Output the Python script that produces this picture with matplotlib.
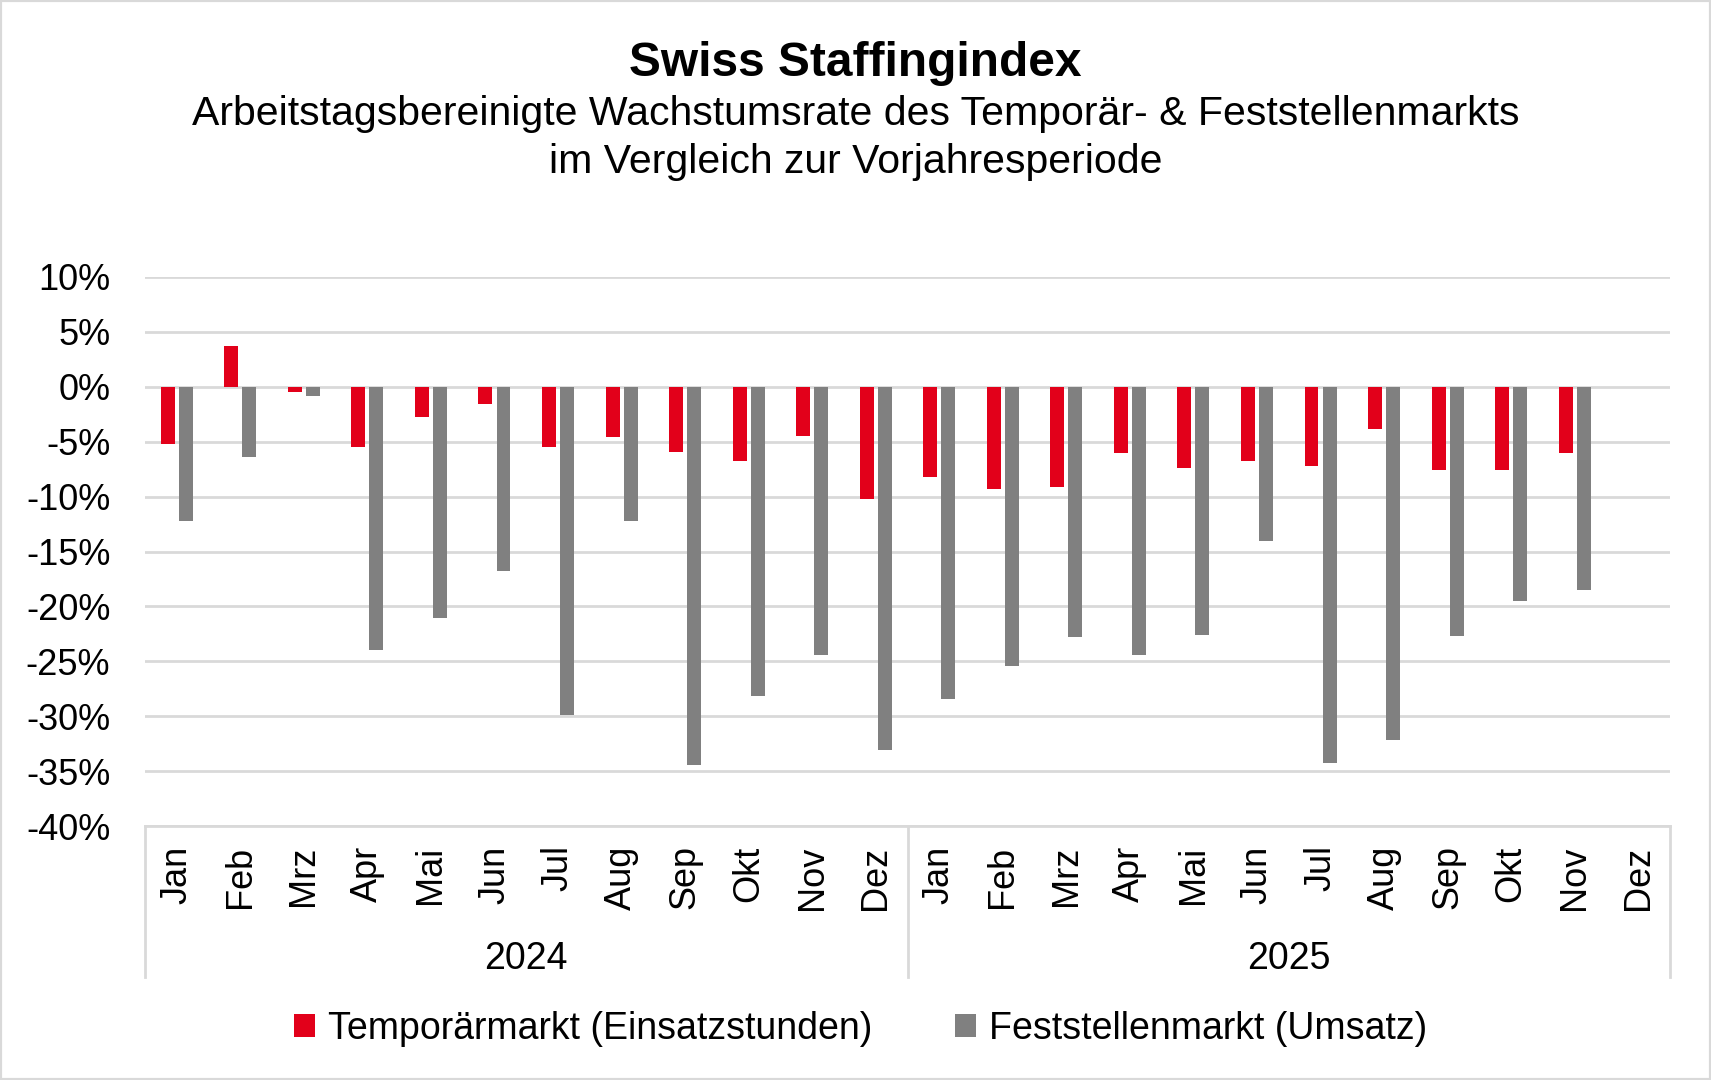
import numpy as np
import matplotlib.pyplot as plt
from matplotlib.patches import Rectangle
import matplotlib.transforms as mtransforms

plt.rcParams['font.family'] = ['Liberation Sans', 'DejaVu Sans']

# Daten (in %)
monate = ['Jan', 'Feb', 'Mrz', 'Apr', 'Mai', 'Jun',
          'Jul', 'Aug', 'Sep', 'Okt', 'Nov', 'Dez']
jahre = ['2024', '2025']

temporaer = [-5.2, 3.7, -0.45, -5.45, -2.75, -1.55, -5.45, -4.6, -5.9, -6.75, -4.5, -10.2,
             -8.25, -9.35, -9.1, -6.05, -7.4, -6.75, -7.25, -3.8, -7.6, -7.6, -6.05, np.nan]
feststellen = [-12.25, -6.35, -0.85, -24.0, -21.1, -16.75, -29.9, -12.25, -34.4, -28.2, -24.4, -33.1,
               -28.4, -25.45, -22.8, -24.4, -22.6, -14.0, -34.3, -32.2, -22.7, -19.55, -18.55, np.nan]

labels = monate * len(jahre)
x = np.arange(len(labels))

rot = '#E2001A'
grau = '#808080'
linie = '#D9D9D9'

fig = plt.figure(figsize=(17.11, 10.8), dpi=100)
ax = fig.add_axes([145/1711, 1 - 826/1080, (1670 - 145)/1711, (826 - 277)/1080])

w = 0.22
ax.bar(x - 0.142, temporaer, w, color=rot, label='Temporärmarkt (Einsatzstunden)', zorder=3)
ax.bar(x + 0.142, feststellen, w, color=grau, label='Feststellenmarkt (Umsatz)', zorder=3)

ax.set_xlim(-0.5, len(labels) - 0.5)
ax.set_ylim(-40, 10)
ax.set_yticks(np.arange(-40, 11, 5))
ax.set_yticklabels([f'{v}%' for v in range(-40, 11, 5)])
ax.yaxis.grid(True, color=linie, linewidth=2, zorder=0)
ax.set_axisbelow(True)

ax.set_xticks(x)
ax.set_xticklabels(labels, rotation=90, va='top', ha='center')
ax.tick_params(axis='x', length=0, pad=14, labelsize=26)
ax.tick_params(axis='y', length=0, pad=25, labelsize=26)

for s in ['top', 'right', 'left']:
    ax.spines[s].set_visible(False)
ax.spines['bottom'].set_color(linie)
ax.spines['bottom'].set_linewidth(2)

# zweistufige Kategorieachse
trans = mtransforms.blended_transform_factory(ax.transData, ax.transAxes)
unten = -(977 - 826) / (826 - 277)
for i in range(len(jahre) + 1):
    xs = i * 12 - 0.5
    ax.plot([xs, xs], [0, unten], transform=trans, color=linie, lw=2, clip_on=False)
for i, j in enumerate(jahre):
    ax.text(i * 12 + 5.5, -(959 - 826) / (826 - 277), j, transform=trans,
            ha='center', va='center', fontsize=27)

fig.text(0.5, 1 - 63/1080, 'Swiss Staffingindex', ha='center', va='center',
         fontsize=34.5, fontweight='bold')
fig.text(0.5, 1 - 114/1080, 'Arbeitstagsbereinigte Wachstumsrate des Temporär- & Feststellenmarkts',
         ha='center', va='center', fontsize=29.5)
fig.text(0.5, 1 - 162/1080, 'im Vergleich zur Vorjahresperiode',
         ha='center', va='center', fontsize=29.5)

fig.legend(loc='center', bbox_to_anchor=(0.503, 1 - 1029/1080), ncol=2, frameon=False,
           fontsize=27, handlelength=0.55, handleheight=0.55, handletextpad=0.35,
           columnspacing=2.2)

fig.patches.append(Rectangle((0, 0), 1, 1, transform=fig.transFigure, fill=False,
                             edgecolor=linie, linewidth=3))

plt.savefig('out.png', dpi=100)
